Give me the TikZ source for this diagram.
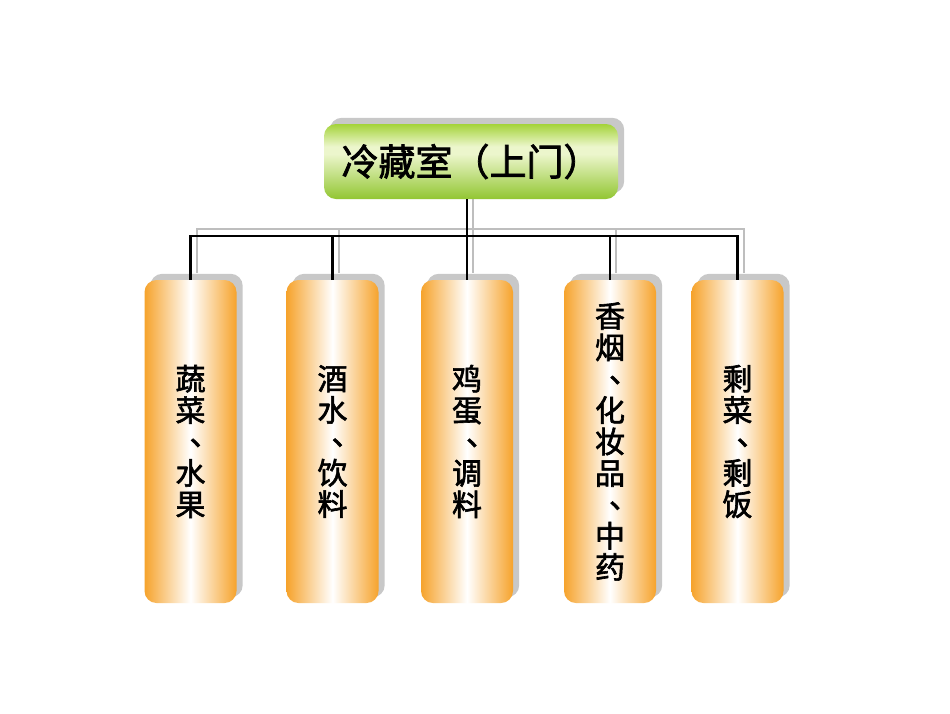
\documentclass[tikz,border=0pt]{standalone}
\usepackage{fontspec}
\newfontfamily\cjk{Noto Sans CJK SC}[RawFeature={embolden=2}]
\usetikzlibrary{backgrounds}
\definecolor{gtop}{RGB}{164,211,58}
\definecolor{gbot}{RGB}{146,198,50}
\definecolor{glight}{RGB}{236,246,204}
\definecolor{orng}{RGB}{246,163,44}
\definecolor{shadowgray}{RGB}{200,200,200}
\definecolor{linegray}{RGB}{190,190,190}
\pgfdeclareverticalshading{greenbar}{100bp}{color(0bp)=(gbot); color(25bp)=(gbot); color(55bp)=(glight); color(60bp)=(glight); color(75bp)=(gtop); color(100bp)=(gtop)}
\newcommand\dunhao{\makebox[1em][l]{\hspace{0.47em}\raisebox{0.25em}{、}}}
\begin{document}
\begin{tikzpicture}[x=1pt,y=-1pt,
 topbox/.style={rounded corners=12pt, shade, shading=greenbar, minimum width=294pt, minimum height=75pt, inner sep=0pt, font=\cjk\fontsize{37}{40}\selectfont},
 colbox/.style={rounded corners=12pt, left color=orng, right color=orng, middle color=white, minimum width=92pt, minimum height=323pt, inner sep=0pt, align=center, font=\cjk\fontsize{30}{31.4}\selectfont},
 conn/.style={black, line width=2.2pt},
 shadowconn/.style={linegray, line width=2pt},
 shadowfill/.style={fill=shadowgray, rounded corners=12pt}]
\useasboundingbox (0,0) rectangle (950,713);
\node[topbox] (top) at (471,161.5) {冷藏室（上门）};
\node[colbox] (c1) at (190.5,441.5) {蔬\\菜\\\dunhao\\水\\果};
\node[colbox] (c2) at (332.5,441.5) {酒\\水\\\dunhao\\饮\\料};
\node[colbox] (c3) at (467,441.5) {鸡\\蛋\\\dunhao\\调\\料};
\node[colbox] (c4) at (610,441.5) {香\\烟\\\dunhao\\化\\妆\\品\\\dunhao\\中\\药};
\node[colbox] (c5) at (737.5,441.5) {剩\\菜\\\dunhao\\剩\\饭};
\coordinate (bus) at (467,236);
\begin{scope}[on background layer]
 \fill[white] (0,0) rectangle (950,713);
 \begin{scope}[transform canvas={xshift=6pt,yshift=7pt}]
  \draw[shadowconn] (top.south -| c3.north) -- (c3.north);
  \draw[shadowconn] (c1.north) -- (c1.north |- bus) -- (c5.north |- bus) -- (c5.north);
  \draw[shadowconn] (c2.north) -- (c2.north |- bus);
  \draw[shadowconn] (c4.north) -- (c4.north |- bus);
 \end{scope}
 \begin{scope}[transform canvas={xshift=6pt,yshift=6pt}]
  \foreach \n in {top,c1,c2,c3,c4,c5}
   \fill[shadowfill] (\n.north west) rectangle (\n.south east);
 \end{scope}
\end{scope}
\draw[conn] (top.south -| c3.north) -- (c3.north);
\draw[conn] (c1.north) -- (c1.north |- bus) -- (c5.north |- bus) -- (c5.north);
\draw[conn] (c2.north) -- (c2.north |- bus);
\draw[conn] (c4.north) -- (c4.north |- bus);
\end{tikzpicture}
\end{document}
